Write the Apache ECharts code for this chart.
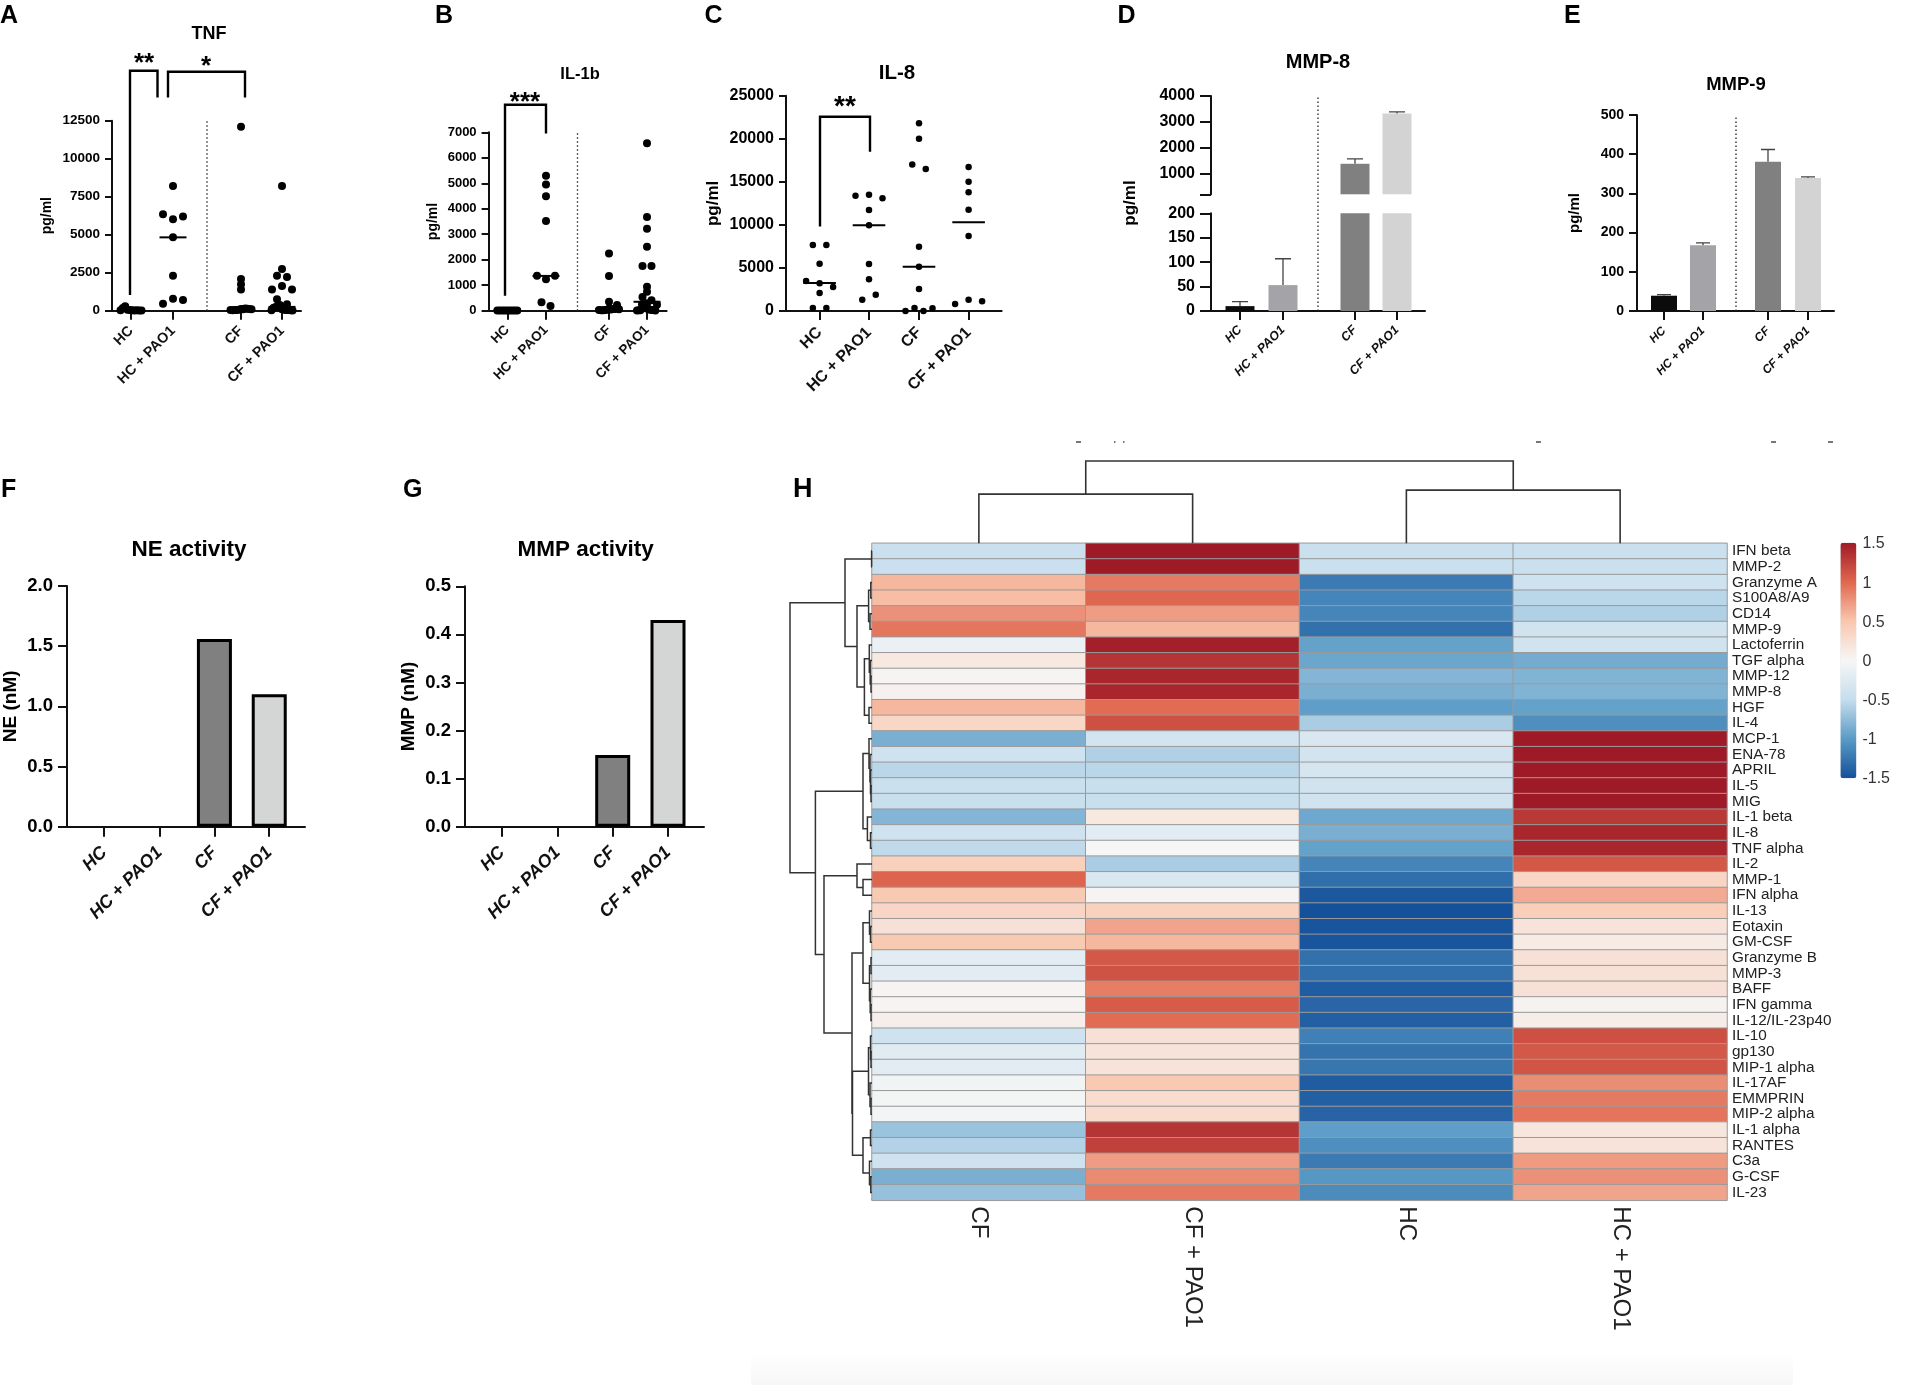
<!DOCTYPE html>
<html><head><meta charset="utf-8">
<style>html,body{margin:0;padding:0;background:#fff}#c{width:1915px;height:1385px}</style>
<script src="https://cdn.jsdelivr.net/npm/echarts@6/dist/echarts.min.js"></script>
</head><body><div id="c"></div>
<script>
// ---------- data ----------
const groups = ['HC','HC + PAO1','CF','CF + PAO1'];
// swarm panels: order inside a tied bin decides centre / left / right placement
const tnfHC   = [40,30,60,20,300,30,180,20,30,10];
const tnfHCP  = [8200,6020,6350,6200,4825,2300,790,455,700];
const tnfCF   = [12100,2090,1745,1400,120,60,90,40,150,50,130,30,110,40,100];
const tnfCFP  = [8200,2750,2300,2220,1620,1400,1400,760,420,100,380,60,300,50,250,40,200,30,30,20];
const tnfMed  = [20,4825,130,250];
const il1HC   = [10,5,12,8,6,10,5,8,6];
const il1HCP  = [5300,4950,4490,3520,1230,1370,1370,330,185];
const il1CF   = [2240,1365,355,80,40,50,30,70,20,70,20,220,30,60];
const il1CFP  = [6570,3680,3220,2510,1755,1755,940,740,540,410,290,130,100,60,220,40,250,30,20,30,20,10,10,230];
const il1Med  = [10,1365,60,350];
const il8HC   = [7650,7650,5500,3230,3480,2800,2100,350,350];
const il8HCP  = [13500,13390,13080,11730,9950,5450,3680,1320,1900];
const il8CF   = [21800,20000,17000,16500,7470,5150,2550,340,0,0,310];
const il8CFP  = [16720,15000,13800,11750,8700,1300,820,1130];
const il8Med  = [3250,9950,5150,10300];
const mmp8    = [10,53,1380,3320];
const mmp8Top = [19,107,1570,3390];
const mmp9    = [39,168,381,339];
const mmp9Top = [42,174,412,342];
const neAct   = [0,0,1.56,1.10];
const mmpAct  = [0,0,0.149,0.43];
const heatCols = ['CF','CF + PAO1','HC','HC + PAO1'];
const heatRows = ['IFN beta','MMP-2','Granzyme A','S100A8/A9','CD14','MMP-9','Lactoferrin','TGF alpha','MMP-12','MMP-8','HGF','IL-4','MCP-1','ENA-78','APRIL','IL-5','MIG','IL-1 beta','IL-8','TNF alpha','IL-2','MMP-1','IFN alpha','IL-13','Eotaxin','GM-CSF','Granzyme B','MMP-3','BAFF','IFN gamma','IL-12/IL-23p40','IL-10','gp130','MIP-1 alpha','IL-17AF','EMMPRIN','MIP-2 alpha','IL-1 alpha','RANTES','C3a','G-CSF','IL-23'];
const heatCF  = [-.45,-.45,.58,.55,.78,.92,-.12,.15,.02,.05,.58,.33,-.85,-.4,-.55,-.45,-.47,-.8,-.4,-.52,.4,1.02,.47,.35,.22,.47,-.2,-.2,.03,.03,.08,-.4,-.22,-.2,-.05,-.03,-.04,-.7,-.58,-.4,-.85,-.72];
const heatCFP = [1.5,1.5,.9,1.0,.72,.58,1.47,1.33,1.42,1.42,.98,1.15,-.36,-.6,-.55,-.47,-.47,.15,-.2,.0,-.62,-.3,.02,.38,.68,.58,1.1,1.13,.88,1.08,.98,.22,.2,.2,.48,.28,.27,1.33,1.25,.72,.82,.9];
const heatHC  = [-.45,-.45,-1.22,-1.15,-1.15,-1.28,-.95,-.92,-.8,-.85,-.98,-.62,-.3,-.36,-.33,-.38,-.38,-.9,-.85,-.95,-1.15,-1.3,-1.45,-1.5,-1.47,-1.47,-1.28,-1.3,-1.42,-1.35,-1.4,-1.18,-1.27,-1.25,-1.42,-1.4,-1.37,-.98,-1.08,-1.22,-1.03,-1.1];
const heatHCP = [-.45,-.45,-.4,-.55,-.6,-.38,-.38,-.88,-.82,-.82,-.95,-1.08,1.5,1.5,1.5,1.5,1.5,1.3,1.42,1.42,1.1,.35,.65,.42,.2,.12,.22,.22,.22,.04,.1,1.15,1.1,1.12,.8,.9,.93,.17,.2,.73,.78,.68];
const colTree = [82,[49,0,1],[53,2,3]];
const rowTree = [82,
 [27,[0.4,0,1],[15,[3.4,[1.2,2,3],[2,4,5]],[7.6,[2.7,6,[1.8,7,[1,8,9]]],[3,10,11]]]],
 [56.6,[9,[3,12,[2,13,[1.5,14,[1,15,16]]]],[4.6,17,[1.5,18,19]]],
  [48,[15,20,[9,21,22]],
   [20,[9,[2.5,23,[1.5,24,25]],[2.5,[1,26,27],[1.8,28,[1,29,30]]]],
    [19.5,[3.5,[1.5,31,[1,32,33]],[2,34,[1,35,36]]],[9,[1.5,37,38],[2.5,39,[1.2,40,41]]]]]]]];

// ---------- builders ----------
const SANS = '"Liberation Sans", Arial, sans-serif';
const grid=[],xAxis=[],yAxis=[],series=[],graphic=[];
const INK='#111';
function text(x,y,s,size,opt={}){
  graphic.push({type:'text',x,y,rotation:opt.rot||0,silent:true,style:{text:s,fontFamily:SANS,fontSize:size,fontWeight:opt.weight||'bold',fill:opt.fill||'#000',align:opt.align||'center',verticalAlign:'middle'}});
}
function swarm(vals,pos,thr,step,maxHalf){
  const out=[];let i=0;
  while(i<vals.length){
    let j=i+1; while(j<vals.length && Math.abs(vals[j]-vals[i])<=thr) j++;
    const n=j-i, s=n>1?Math.min(step,2*maxHalf/(n-1)):0;
    for(let k=0;k<n;k++){
      let slot;
      if(n%2){ const m=Math.ceil(k/2); slot=k===0?0:(k%2?-m:m);}
      else { const m=Math.floor(k/2)+.5; slot=k%2?m:-m;}
      out.push([pos+slot*s,vals[i+k]]);
    }
    i=j;
  }
  return out;
}
function addPolylines(gi,data,toPts,color,width,dash){
  series.push({type:'custom',coordinateSystem:'cartesian2d',xAxisIndex:gi,yAxisIndex:gi,silent:true,clip:false,z:3,
    data,renderItem:(p,api)=>{
      const v=[];for(let i=0;i<data[0].length;i++)v.push(api.value(i));
      return {type:'polyline',shape:{points:toPts(v).map(q=>api.coord(q))},style:{stroke:color,lineWidth:width,fill:null,lineDash:dash||null}};
    }});
}
function axes(c){
  const gi=grid.length;
  grid.push({left:c.left,top:c.top,width:c.width,height:c.height,containLabel:false});
  const lw=c.lw||2, yTick=c.yTick||7;
  xAxis.push({gridIndex:gi,type:'value',min:0,max:c.width,show:!c.noX,splitLine:{show:false},
    axisLine:{onZero:false,lineStyle:{color:INK,width:lw}},
    axisTick:{customValues:c.pos,length:c.xTick||9,lineStyle:{color:INK,width:lw}},
    axisLabel:{customValues:c.pos,rotate:c.rot||45,margin:c.catMargin||9,interval:0,hideOverlap:false,
      fontFamily:SANS,fontSize:c.catSize,fontStyle:c.catItalic?'italic':'normal',fontWeight:c.catWeight||'bold',color:'#111',
      formatter:v=>groups[c.pos.indexOf(v)]||''}});
  const yl={fontFamily:SANS,fontSize:c.tickSize,fontWeight:'bold',color:'#000',margin:yTick+5,
    formatter:v=>c.fix!=null?v.toFixed(c.fix):String(v)};
  const y={gridIndex:gi,type:'value',min:c.yMin||0,max:c.yMax,splitLine:{show:false},
    axisLine:{show:true,onZero:false,lineStyle:{color:INK,width:lw}},
    axisTick:{show:true,length:yTick,lineStyle:{color:INK,width:lw}},axisLabel:yl};
  if(c.interval) y.interval=c.interval;
  if(c.customY){y.axisTick.customValues=c.customY; yl.customValues=c.customYLabels;}
  if(c.yName){
    y.name=c.yName;y.nameLocation='middle';y.nameRotate=90;y.nameGap=c.nameGap;
    y.nameTextStyle={fontFamily:SANS,fontSize:c.nameSize,fontWeight:'bold',color:'#000',align:'center',verticalAlign:'middle'};
  }
  yAxis.push(y);
  return gi;
}
function swarmPanel(c){
  const gi=axes(c);
  c.groups.forEach((vals,i)=>{
    series.push({type:'scatter',xAxisIndex:gi,yAxisIndex:gi,clip:false,silent:true,z:4,symbolSize:c.dot,
      itemStyle:{color:'#000',opacity:1},data:swarm(vals,c.pos[i],c.thr,c.step,c.maxHalf)});
  });
  addPolylines(gi,c.med.map((m,i)=>[c.pos[i],m]),v=>[[v[0]-c.medHalf,v[1]],[v[0]+c.medHalf,v[1]]],'#000',2);
  if(c.divider) addPolylines(gi,[c.divider],v=>[[v[0],0],[v[0],v[1]]],'#222',1.3,[1.5,2.5]);
  (c.brackets||[]).forEach(b=>addPolylines(gi,[b],v=>[[v[0],v[1]],[v[0],v[2]],[v[3],v[2]],[v[3],v[4]]],'#000',2.4));
}
function bars(gi,pos,vals,colors,w,border,bw){
  series.push({type:'bar',xAxisIndex:gi,yAxisIndex:gi,barWidth:w,silent:true,z:2,
    data:pos.map((x,i)=>vals[i]==null||vals[i]<=0?null:{value:[x,vals[i]],itemStyle:{color:colors[i],borderColor:border||colors[i],borderWidth:bw||0}}).filter(Boolean)});
}
function errs(gi,pos,vals,tops,cap){
  addPolylines(gi,pos.map((x,i)=>[x,vals[i],tops[i]]).filter(d=>d[2]!=null),v=>[[v[0],v[1]],[v[0],v[2]],[v[0]-cap,v[2]],[v[0]+cap,v[2]]],'#444',1.3);
}
const barColors=['#0b0b0b','#a3a3a8','#808080','#d3d3d3'];
const actColors=['#808080','#808080','#808080','#d4d6d6'];

// ---------- panels ----------
text(0,16,'A',25,{align:'left'});text(435,16,'B',25,{align:'left'});text(704.5,16,'C',25,{align:'left'});
text(1117.5,16,'D',25,{align:'left'});text(1564,16,'E',25,{align:'left'});
text(1,490,'F',25,{align:'left'});text(403,490,'G',25,{align:'left'});text(793,490,'H',27,{align:'left'});

swarmPanel({left:112,top:120.7,width:189,height:190,yMax:12500,interval:2500,tickSize:13.5,catSize:14.3,catMargin:18,
  pos:[19,61,129,170],groups:[tnfHC,tnfHCP,tnfCF,tnfCFP],med:tnfMed,dot:8,thr:340,step:10,maxHalf:10.5,medHalf:13.5,
  yName:'pg/ml',nameSize:14,nameGap:65,divider:[95,12500],
  brackets:[[18,1030,15790,45.5,14030],[56,14030,15720,133,14030]]});
text(209,34,'TNF',18);text(144,64,'**',26);text(206,67,'*',26);

swarmPanel({left:488.6,top:132.3,width:178,height:178.4,yMax:7000,interval:1000,tickSize:13,catSize:13.5,catMargin:17,
  pos:[18.7,57.4,120.4,158.4],groups:[il1HC,il1HCP,il1CF,il1CFP],med:il1Med,dot:8,thr:150,step:9,maxHalf:10,medHalf:13.5,
  yName:'pg/ml',nameSize:14,nameGap:55.6,divider:[88.9,7000],
  brackets:[[16.4,590,8080,57.4,6950]]});
text(580,74,'IL-1b',16.5);text(525,103,'***',26);

swarmPanel({left:786,top:95.7,width:215.6,height:215.3,yMax:25000,interval:5000,tickSize:16,catSize:16,catMargin:19,
  pos:[33.6,83,133,182.6],groups:[il8HC,il8HCP,il8CF,il8CFP],med:il8Med,dot:6.5,thr:600,step:13.5,maxHalf:13.5,medHalf:16.3,
  yName:'pg/ml',nameSize:17,nameGap:73,
  brackets:[[34,9800,22560,84,18500]]});
text(897,73.5,'IL-8',20.5);text(845,107,'**',28);

// D: broken axis = two stacked grids
const dPos=[29,72,144,186];
const dUp=axes({left:1211,top:96,width:214,height:98.3,yMin:200,yMax:4000,noX:true,tickSize:16,yTick:11,pos:dPos,catSize:13,
  customY:[200,1000,2000,3000,4000],customYLabels:[1000,2000,3000,4000]});
const dLow=axes({left:1211,top:213.3,width:214,height:97.7,yMax:200,interval:50,tickSize:16,yTick:11,pos:dPos,catSize:12.5,catItalic:true,rot:45,catMargin:17});
bars(dUp,dPos,mmp8.map(v=>v>200?v:null),barColors,29);
bars(dLow,dPos,mmp8.map(v=>Math.min(v,200)),barColors,29);
errs(dUp,dPos,mmp8.map((v,i)=>v>200?v:null),mmp8Top.map((v,i)=>mmp8[i]>200?v:null),8);
errs(dLow,dPos,mmp8.map((v,i)=>v>200?null:v),mmp8Top.map((v,i)=>mmp8[i]>200?null:v),8);
addPolylines(dLow,[[107,442]],v=>[[v[0],0],[v[0],v[1]]],'#222',1.3,[1.5,2.5]);
text(1318,62.5,'MMP-8',20);
text(1130,203,'pg/ml',17,{rot:Math.PI/2});

const ePos=[27,66,131,171];
const eG=axes({left:1637,top:115,width:197,height:196,yMax:500,interval:100,tickSize:14,yTick:8,pos:ePos,catSize:12,catItalic:true,catMargin:18,
  yName:'pg/ml',nameSize:15,nameGap:62});
bars(eG,ePos,mmp9,barColors,26);
errs(eG,ePos,mmp9,mmp9Top,7);
addPolylines(eG,[[99,500]],v=>[[v[0],0],[v[0],v[1]]],'#222',1.3,[1.5,2.5]);
text(1736,84.5,'MMP-9',18.5);

const fPos=[37.4,93.1,148.4,203.6];
const fG=axes({left:65.4,top:586,width:239.6,height:240.7,yMax:2,interval:.5,fix:1,tickSize:18.5,yTick:9,xTick:10,pos:fPos,catSize:18,catItalic:true,catMargin:23,
  yName:'NE (nM)',nameSize:19,nameGap:56.5});
bars(fG,fPos,neAct,actColors,35,'#000',3);
text(189,550,'NE activity',22.5);

const gPos=[37,92.5,147.7,203];
const gG=axes({left:465,top:586.3,width:239,height:240.4,yMax:.5,interval:.1,fix:1,tickSize:18.5,yTick:9,xTick:10,pos:gPos,catSize:18,catItalic:true,catMargin:23,
  yName:'MMP (nM)',nameSize:19,nameGap:56.5});
bars(gG,gPos,mmpAct,actColors,35,'#000',3);
text(585.6,550,'MMP activity',22.5);

// H: heatmap
const hLeft=872,hTop=543.3,hW=855,hH=657;
const hi=grid.length;
grid.push({left:hLeft,top:hTop,width:hW,height:hH});
xAxis.push({gridIndex:hi,type:'category',data:heatCols,position:'bottom',axisLine:{show:false},axisTick:{show:false},splitLine:{show:false},
  axisLabel:{rotate:-90,margin:6,interval:0,fontFamily:SANS,fontSize:24,color:'#222'}});
yAxis.push({gridIndex:hi,type:'category',data:heatRows,inverse:true,position:'right',axisLine:{show:false},axisTick:{show:false},splitLine:{show:false},
  axisLabel:{margin:5,interval:0,fontFamily:SANS,fontSize:15.3,color:'#222',padding:[4,0,0,0]}});
const heatData=[];[heatCF,heatCFP,heatHC,heatHCP].forEach((col,c)=>col.forEach((v,r)=>heatData.push([c,r,v])));
const heatIdx=series.length;
series.push({type:'heatmap',xAxisIndex:hi,yAxisIndex:hi,data:heatData,silent:true,itemStyle:{borderColor:'#9a9a9a',borderWidth:1}});

function walk(t,segs){
  if(typeof t==='number') return {p:t+.5,h:0};
  const a=walk(t[1],segs),b=walk(t[2],segs);
  segs.push([a.p,a.h,t[0],b.p,b.h]);
  return {p:(a.p+b.p)/2,h:t[0]};
}
// row dendrogram
const rd=grid.length;
grid.push({left:790,top:hTop,width:82,height:hH});
xAxis.push({gridIndex:rd,type:'value',inverse:true,min:0,max:82,show:false});
yAxis.push({gridIndex:rd,type:'value',inverse:true,min:0,max:heatRows.length,show:false});
const rs=[];walk(rowTree,rs);
addPolylines(rd,rs,v=>[[v[1],v[0]],[v[2],v[0]],[v[2],v[3]],[v[4],v[3]]],'#333',1.5);
// column dendrogram
const cd=grid.length;
grid.push({left:hLeft,top:461,width:hW,height:82.3});
xAxis.push({gridIndex:cd,type:'value',min:0,max:heatCols.length,show:false});
yAxis.push({gridIndex:cd,type:'value',min:0,max:82,show:false});
const cs=[];walk(colTree,cs);
addPolylines(cd,cs,v=>[[v[0],v[1]],[v[0],v[2]],[v[3],v[2]],[v[3],v[4]]],'#333',1.6);
// colour bar labels
const cb=grid.length;
grid.push({left:1840.4,top:544,width:16,height:235});
xAxis.push({gridIndex:cb,type:'value',show:false,min:0,max:1});
yAxis.push({gridIndex:cb,type:'value',position:'right',min:-1.5,max:1.5,interval:.5,axisLine:{show:false},axisTick:{show:false},splitLine:{show:false},
  axisLabel:{margin:6,fontFamily:SANS,fontSize:16,color:'#333'}});

// faint band at the foot of the figure and crop remnants above the heatmap
graphic.push({type:'rect',z:-1,silent:true,shape:{x:751,y:1352,width:1042,height:33},
  style:{fill:{type:'linear',x:0,y:0,x2:0,y2:1,colorStops:[{offset:0,color:'#ffffff'},{offset:1,color:'#f7f7f7'}]}}});
[[1076,5],[1114,1.5],[1123,1.5],[1536,5],[1771,5],[1828,5]].forEach(m=>graphic.push({type:'rect',silent:true,shape:{x:m[0],y:441,width:m[1],height:2},style:{fill:'#777'}}));

const chart=echarts.init(document.getElementById('c'));
chart.setOption({animation:false,backgroundColor:'#fff',grid,xAxis,yAxis,series,graphic,
  visualMap:{type:'continuous',seriesIndex:heatIdx,min:-1.5,max:1.5,calculable:false,hoverLink:false,realtime:false,
    orient:'vertical',left:1840.4,top:542.7,itemWidth:16,itemHeight:235.5,text:null,padding:0,
    inRange:{color:['#15509a','#5a9bc6','#c5dded','#f6f6f6','#f9c7ae','#e0674f','#9f1a27']}}});
</script></body></html>
